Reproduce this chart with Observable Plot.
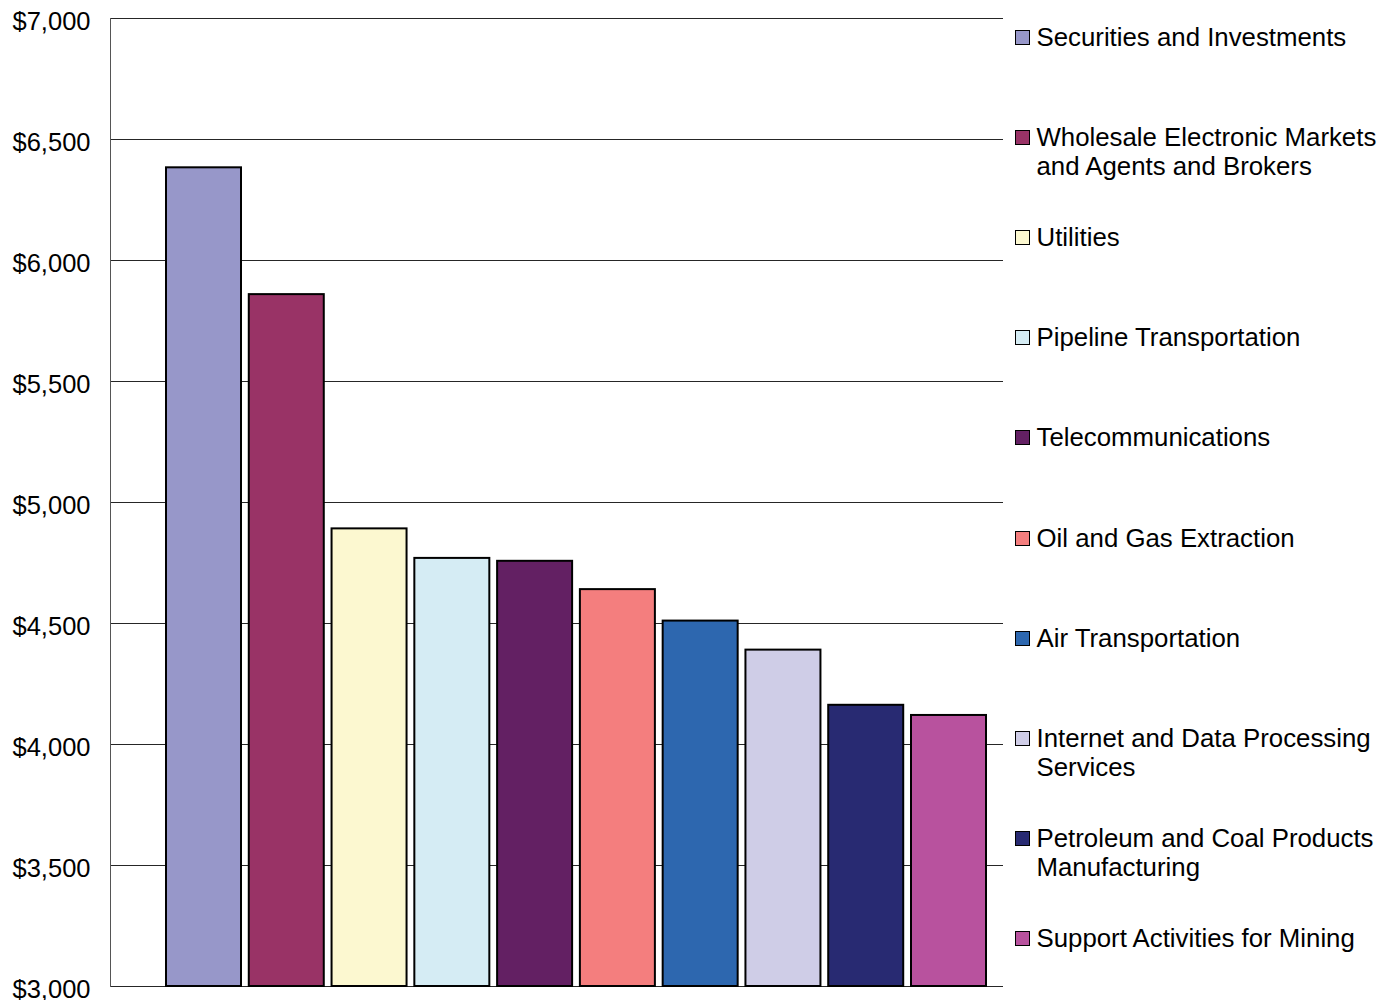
<!DOCTYPE html>
<html>
<head>
<meta charset="utf-8">
<script src="https://cdn.jsdelivr.net/npm/d3@7"></script>
<script src="https://cdn.jsdelivr.net/npm/@observablehq/plot@0.6"></script>
<style>
  html, body { margin: 0; padding: 0; background: #fff; }
  #wrap { position: relative; width: 1390px; height: 1000px; font-family: "Liberation Sans", Arial, sans-serif; }
  #legend { position: absolute; left: 1015px; top: 0; }
  .item { position: absolute; left: 0; display: flex; align-items: flex-start; }
  .sw { width: 13px; height: 13px; border: 1.5px solid #000; margin-top: 7px; margin-right: 6.5px; flex: none; }
  .lab { font-size: 25.8px; line-height: 29px; width: 354px; color: #000; }
</style>
</head>
<body>
<div id="wrap"></div>
<script>
const categories = [
  "Securities and Investments",
  "Wholesale Electronic Markets and Agents and Brokers",
  "Utilities",
  "Pipeline Transportation",
  "Telecommunications",
  "Oil and Gas Extraction",
  "Air Transportation",
  "Internet and Data Processing Services",
  "Petroleum and Coal Products Manufacturing",
  "Support Activities for Mining"
];
const values = [6383, 5859, 4891, 4769, 4757, 4640, 4510, 4390, 4162, 4120];
const colors = ["#9797C9", "#993366", "#FCF8D0", "#D5ECF4", "#632063", "#F47E7E", "#2D67AF", "#CFCDE7", "#282A72", "#B8529E"];
const yTicks = [3000, 3500, 4000, 4500, 5000, 5500, 6000, 6500, 7000];

const data = categories.map((name, i) => ({name, value: values[i]}));

const chart = Plot.plot({
  width: 1390,
  height: 1000,
  marginLeft: 110,
  marginRight: 387,
  marginTop: 18,
  marginBottom: 14,
  style: {fontFamily: "'Liberation Sans', Arial, sans-serif", fontSize: "25.5px", color: "#000", background: "#fff"},
  x: {domain: categories, range: [166, 986], paddingInner: 0.094, paddingOuter: 0, round: false, axis: null},
  y: {domain: [3000, 7000], axis: null},
  color: {domain: categories, range: colors},
  marks: [
    Plot.gridY(yTicks, {stroke: "#000", strokeOpacity: 0.85, strokeWidth: 1}),
    Plot.frame({anchor: "left", stroke: "#555"}),
    Plot.barY(data, {x: "name", y1: 3000, y2: "value", fill: "name", stroke: "#000", strokeWidth: 2}),
    Plot.axisY(yTicks, {tickSize: 0, tickPadding: 20, tickFormat: d3.format("$,"), fontSize: 25.5, dy: 3, label: null})
  ]
});

const wrap = document.getElementById("wrap");
wrap.appendChild(chart);

const legend = document.createElement("div");
legend.id = "legend";
categories.forEach((name, i) => {
  const item = document.createElement("div");
  item.className = "item";
  item.style.top = (22.5 + i * 100.2) + "px";
  const sw = document.createElement("div");
  sw.className = "sw";
  sw.style.background = colors[i];
  const lab = document.createElement("div");
  lab.className = "lab";
  lab.textContent = name;
  item.appendChild(sw);
  item.appendChild(lab);
  legend.appendChild(item);
});
wrap.appendChild(legend);
</script>
</body>
</html>
